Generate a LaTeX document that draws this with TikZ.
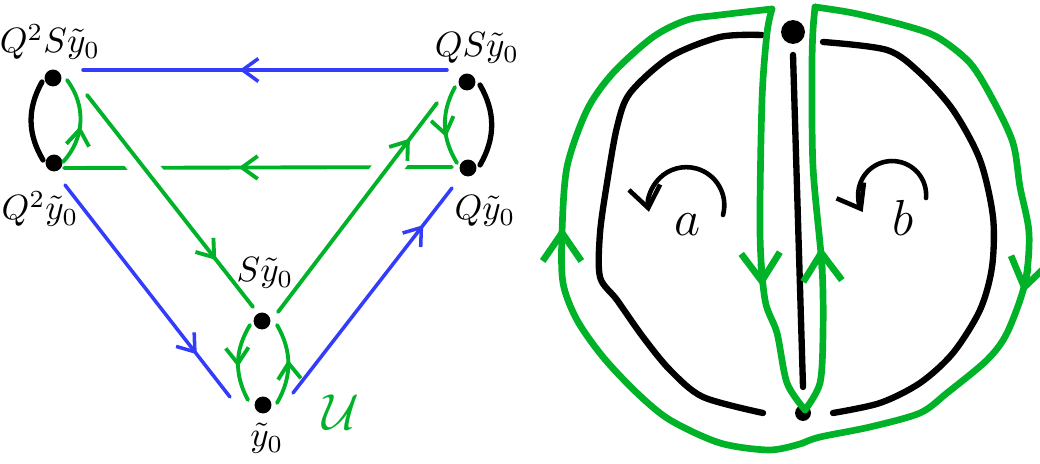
\documentclass[tikz,border=0pt]{standalone}
\usepackage{amsmath,amssymb}
\usepackage{xcolor}
\usepackage{tikz}
\usetikzlibrary{arrows.meta,decorations.markings}

\definecolor{penblue}{RGB}{50,60,250}
\definecolor{pengreen}{RGB}{0,178,40}

\begin{document}
\begin{tikzpicture}[x=0.01cm,y=0.01cm,line cap=round,line join=round,
  dot/.style={circle,fill=black,inner sep=1.7pt},
  midarr/.style={postaction={decorate},decoration={markings,
      mark=at position #1 with {\arrow{Straight Barb[length=4.5pt,width=6.5pt]}}}},
  bigtip/.style={-{Straight Barb[length=8pt,width=11pt]}},
  bluepen/.style={penblue,line width=1pt},
  greenpen/.style={pengreen,line width=1.1pt},
  loop/.style={pengreen,line width=1.9pt},
  blackpen/.style={black,line width=1.5pt},
  gap/.style={preaction={draw=white,line width=8pt,line cap=butt}}]
  \useasboundingbox (0,0) rectangle (1040,464);

  % --- left: the six lifts
  \foreach \n/\px/\py in {q2s/53/386, q2/54/301, qs/467/382, q/468/296, s/262/143, y/263/59}
    \node[dot] (\n) at (\px,\py) {};

  % blue edges
  \draw[bluepen,midarr=0.57] ([shift={(-20,12)}]qs.center) -- ([shift={(30,8)}]q2s.center);
  \draw[bluepen,midarr=0.8] ([shift={(11,-22)}]q2.center) -- ([shift={(-33,8)}]y.center);
  \draw[bluepen,midarr=0.82] ([shift={(30,12)}]y.center) -- ([shift={(-16,-20)}]q.center);

  % green edges, the horizontal one runs under the diagonals
  \draw[greenpen,midarr=0.55] ([shift={(-16,1)}]q.center) -- ([shift={(10,-5)}]q2.center);
  \draw[greenpen,gap,midarr=0.78] ([shift={(34,-17)}]q2s.center) -- ([shift={(-9,14)}]s.center);
  \draw[greenpen,gap,midarr=0.83] ([shift={(16,9)}]s.center) -- ([shift={(-30,-21)}]qs.center);
  \draw[greenpen,midarr=0.45] ([shift={(9,1)}]q2.center) to[bend right=40] ([shift={(14,-2)}]q2s.center);
  \draw[greenpen,midarr=0.65] ([shift={(-12,-5)}]qs.center) to[bend right=30] ([shift={(-11,5)}]q.center);
  \draw[greenpen,midarr=0.56] ([shift={(-12,-4)}]s.center) to[bend right=30] ([shift={(-15,5)}]y.center);
  \draw[greenpen,midarr=0.55] ([shift={(14,2)}]y.center) to[bend right=30] ([shift={(15,-4)}]s.center);

  % black arcs
  \draw[blackpen] ([shift={(-11,-4)}]q2s.center) to[bend right=30] ([shift={(-11,3)}]q2.center);
  \draw[blackpen] ([shift={(13,-3)}]qs.center) to[bend left=30] ([shift={(12,3)}]q.center);

  % labels
  \node[anchor=base] (tq2s) at (50,411) {$Q^2S\tilde y_0$};
  \node[anchor=base] (tq2) at (40,244) {$Q^2\tilde y_0$};
  \node[anchor=base] (tqs) at (477,407) {$QS\tilde y_0$};
  \node[anchor=base] (tq) at (485,244) {$Q\tilde y_0$};
  \node[anchor=base] (ts) at (265,182) {$S\tilde y_0$};
  \node[anchor=base] (ty) at (267,17) {$\tilde y_0$};
  \node[pengreen,anchor=base,font=\Large] (tu) at (341,34) {$\mathcal{U}$};

  % --- right: the two discs glued along a segment
  \node[dot,inner sep=2.4pt] (top) at (793,432) {};
  \node[dot,inner sep=1.6pt] (bot) at (803,51) {};
  \draw[blackpen,line width=1.8pt] ([shift={(0,-23)}]top.center) -- ([shift={(0,26)}]bot.center);
  \draw[blackpen,line width=1.8pt] plot[smooth] coordinates {(762,429) (720,427) (670,407)
    (630,371) (617,337) (607,281) (600,231) (600,187) (617,164) (643,127) (670,94) (703,67) (763,51)};
  \draw[blackpen,line width=1.8pt] plot[smooth] coordinates {(823,422) (887,414) (920,391)
    (953,354) (980,304) (993,247) (992,197) (980,154) (953,111) (920,81) (880,61) (833,51)};

  % green loop, in four pieces
  \draw[loop] plot[smooth] coordinates {(772,455) (767,431)
    (762,364) (760,231) (765,164) (777,131) (787,81) (805,54)};
  \draw[loop] plot[smooth] coordinates {(805,54) (820,81)
    (823,131) (822,197) (813,297) (812,397) (813,434) (815,457)};
  \draw[loop] plot[smooth] coordinates {(815,457) (853,451)
    (903,439) (937,427) (970,401) (993,364) (1013,321) (1020,277) (1029,231) (1025,181)
    (1007,131) (987,104) (947,71) (920,51) (870,37) (820,27) (803,21)};
  \draw[loop] plot[smooth] coordinates {(803,21) (770,14)
    (720,21) (670,44) (637,71) (603,107) (577,144) (563,181) (562,231) (567,297) (587,354)
    (613,391) (653,427) (687,444) (720,449) (772,455)};
  % its arrow heads
  \draw[loop,bigtip] (761,200) -- (762,177);
  \draw[loop,bigtip] (822,195) -- (821,217);
  \draw[loop,bigtip] (1028,195) -- (1023,171);
  \draw[loop,bigtip] (562,215) -- (562,237);

  % turning arrows and their letters
  \draw[blackpen,line width=1.3pt,-{Straight Barb[length=6pt,width=9pt]}]
    (723,249) arc[start angle=-15,end angle=190,radius=38];
  \draw[blackpen,line width=1.3pt,-{Straight Barb[length=6pt,width=9pt]}]
    (926,266) arc[start angle=-5,end angle=210,radius=34];
  \node[font=\Large] (la) at (688,239) {$a$};
  \node[font=\Large] (lb) at (903,246) {$b$};
\end{tikzpicture}
\end{document}
